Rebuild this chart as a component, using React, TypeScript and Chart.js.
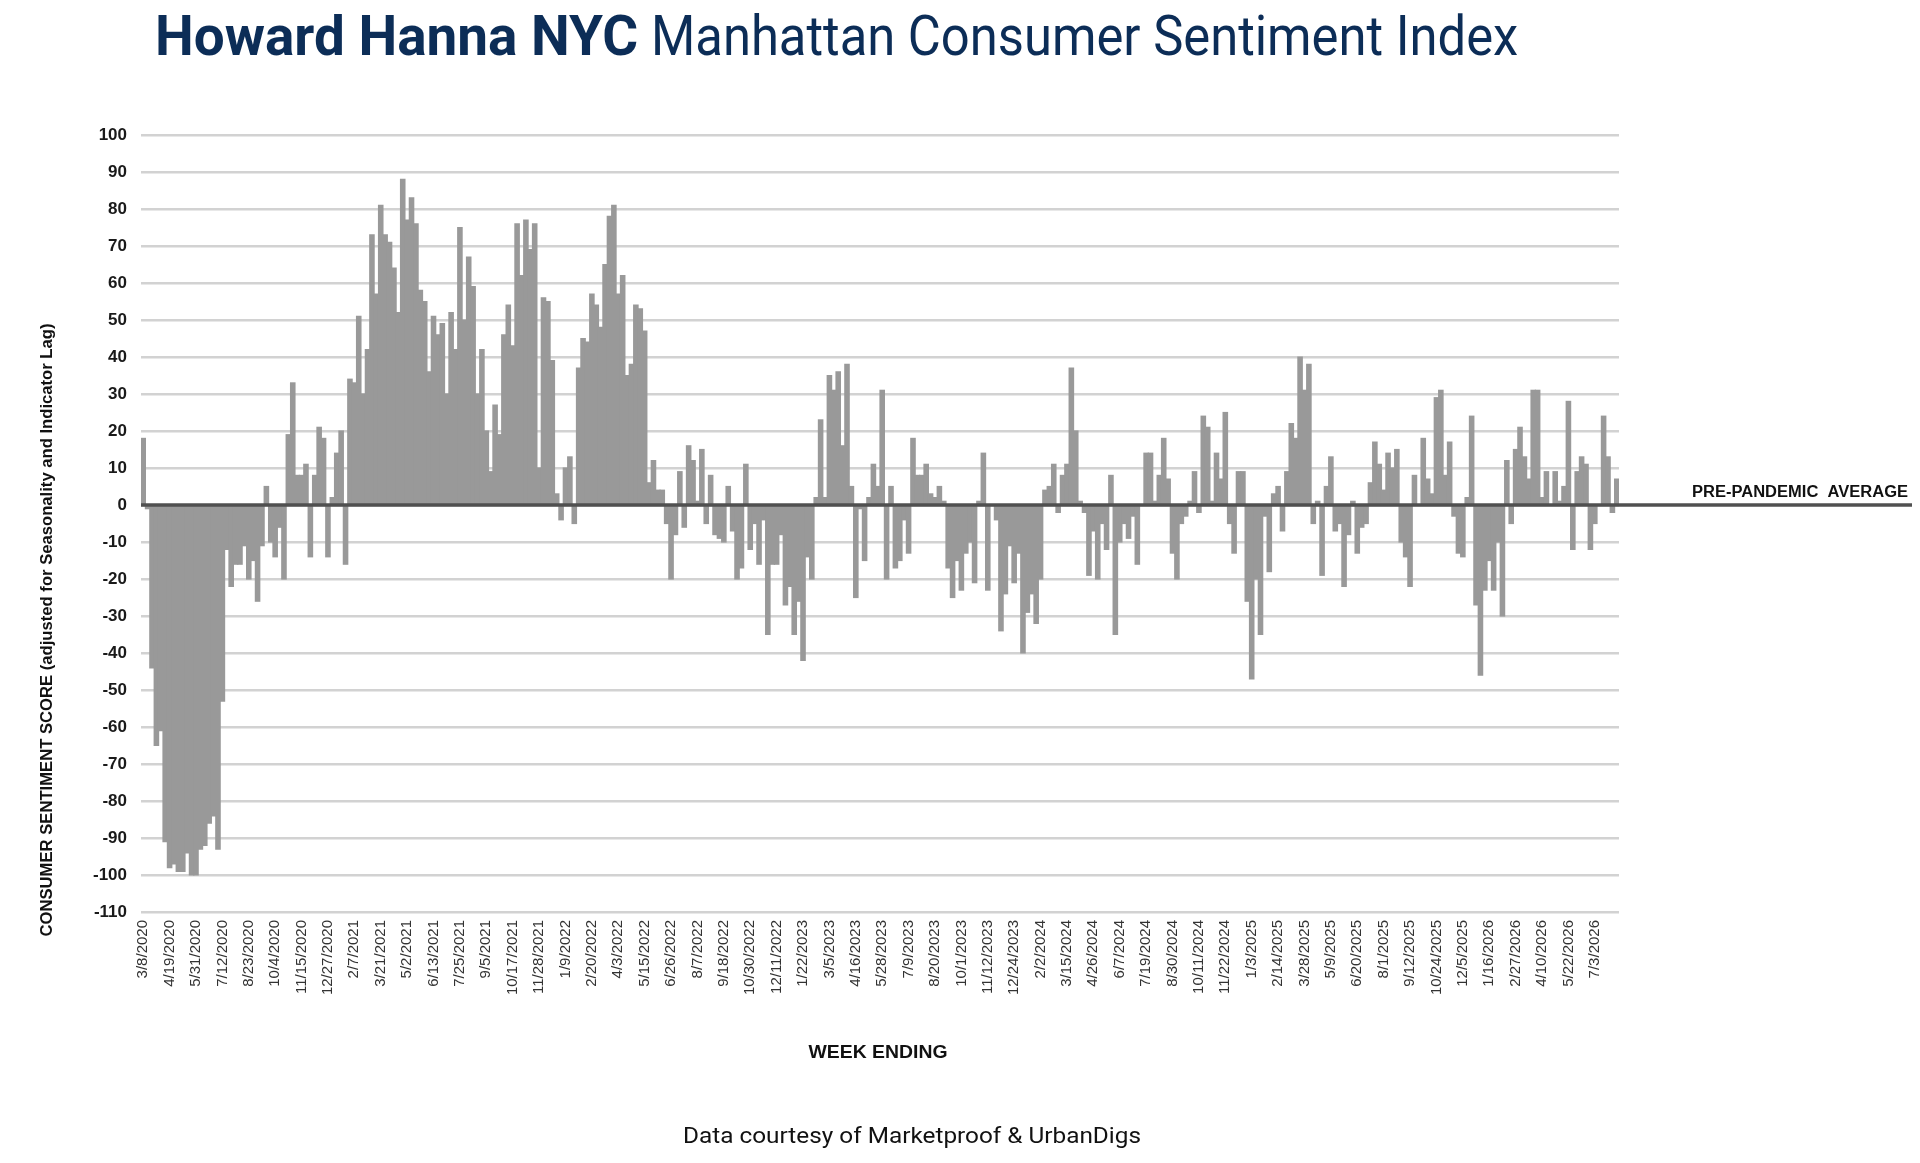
import React, { useEffect, useRef } from 'react';
import { Chart, registerables } from 'chart.js';

Chart.register(...registerables);

// Tick labels, one every 6 weeks
const TICK_LABELS = [
  '3/8/2020', '4/19/2020', '5/31/2020', '7/12/2020', '8/23/2020', '10/4/2020', '11/15/2020', '12/27/2020',
  '2/7/2021', '3/21/2021', '5/2/2021', '6/13/2021', '7/25/2021', '9/5/2021', '10/17/2021', '11/28/2021',
  '1/9/2022', '2/20/2022', '4/3/2022', '5/15/2022', '6/26/2022', '8/7/2022', '9/18/2022', '10/30/2022',
  '12/11/2022', '1/22/2023', '3/5/2023', '4/16/2023', '5/28/2023', '7/9/2023', '8/20/2023', '10/1/2023',
  '11/12/2023', '12/24/2023', '2/2/2024', '3/15/2024', '4/26/2024', '6/7/2024', '7/19/2024', '8/30/2024',
  '10/11/2024', '11/22/2024', '1/3/2025', '2/14/2025', '3/28/2025', '5/9/2025', '6/20/2025', '8/1/2025',
  '9/12/2025', '10/24/2025', '12/5/2025', '1/16/2026', '2/27/2026', '4/10/2026', '5/22/2026', '7/3/2026',
];

// Weekly consumer sentiment scores
const SCORES_A = [
  18, -1, -44, -65, -61, -91, -98, -97, -99, -99, -94, -100, -100, -93, -92, -86, -84, -93, -53, -12,
  -22, -16, -16, -11, -20, -15, -26, -11, 5, -10, -14, -6, -20, 19, 33, 8, 8, 11, -14, 8,
];
const SCORES_B = [
  21, 18, -14, 2, 14, 20, -16, 34, 33, 51, 30, 42, 73, 57, 81, 73, 71, 64, 52, 88,
  77, 83, 76, 58, 55, 36, 51, 46, 49, 30, 52, 42, 75, 50, 67, 59, 30, 42, 20, 9, 27, 19, 46, 54,
];
const SCORES_C = [
  43, 76, 62, 77, 69, 76, 10, 56, 55, 39, 3, -4, 10, 13, -5, 37, 45, 44, 57, 54,
  48, 65, 78, 81, 57, 62, 35, 38, 54, 53, 47, 6, 12, 4, 4, -5, -20, -8, 9, -6, 16, 12,
];
const SCORES_D = [
  1, 15, -5, 8, -8, -9, -10, 5, -7, -20, -17, 11, -12, -5, -16, -4, -35, -16, -16, -8,
  -27, -22, -35, -26, -42, -14, -20, 2, 23, 2, 35, 31, 36, 16, 38, 5, -25, -1, -15, 2, 11, 5,
];
const SCORES_E = [
  31, -20, 5, -17, -15, -4, -13, 18, 8, 8, 11, 3, 2, 5, 1, -17, -25, -15, -23, -13,
  -10, -21, 1, 14, -23, 0, -4, -34, -24, -11, -21, -13, -40, -29, -24, -32, -20, 4, 5, 11, -2,
];
const SCORES_F = [
  8, 11, 37, 20, 1, -2, -19, -7, -20, -5, -12, 8, -35, -10, -5, -9, -3, -16, 0, 14,
  14, 1, 8, 18, 7, -13, -20, -5, -3, 1, 9, -2, 24, 21, 1, 14, 7, 25, -5, -13,
  9, 9, -26, -47, -20, -35, -3, -18, 3, 5, -7, 9, 22, 18, 40, 31, 38, -5, 1, -19, 5,
];
const SCORES_G = [
  13, -7, -5, -22, -8, 1, -13, -6, -5, 6, 17, 11, 4, 14, 10, 15, -10, -14, -22, 8,
  0, 18, 7, 3, 29, 31, 8, 17, -3, -13, -14, 2, 24, -27, -46, -23, -15, -23, -10, -30,
  12, -5, 15, 21, 13, 7, 31, 31, 2, 9, 0, 9, 1, 5, 28, -12, 9, 13, 11, -12, -5, 0, 24, 13, -2, 7,
];

const SCORES = [...SCORES_A, ...SCORES_B, ...SCORES_C, ...SCORES_D, ...SCORES_E, ...SCORES_F, ...SCORES_G];
const LABEL_EVERY = 6;
const CATEGORIES = SCORES.map((_, i) => (i % LABEL_EVERY === 0 ? TICK_LABELS[i / LABEL_EVERY] || '' : ''));

const TITLE_BOLD = 'Howard Hanna NYC';
const TITLE_REGULAR = 'Manhattan Consumer Sentiment Index';
const Y_TITLE = 'CONSUMER SENTIMENT SCORE (adjusted for Seasonality and Indicator Lag)';
const X_TITLE = 'WEEK ENDING';
const AVG_LABEL = 'PRE-PANDEMIC  AVERAGE';
const FOOTER = 'Data courtesy of Marketproof & UrbanDigs';

const NAVY = '#0c2d57';
const SANS = '"Liberation Sans", Arial, sans-serif';

function drawFitted(ctx: CanvasRenderingContext2D, text: string, font: string, x: number, y: number, width: number, rotate: boolean, align: 'center' | 'right') {
  ctx.save();
  ctx.font = font;
  const w = ctx.measureText(text).width;
  ctx.translate(x, y);
  if (rotate) ctx.rotate(-Math.PI / 2);
  ctx.scale(width / w, 1);
  ctx.textAlign = align;
  ctx.textBaseline = 'alphabetic';
  ctx.fillStyle = '#111';
  ctx.fillText(text, 0, 0);
  ctx.restore();
}

const overlayPlugin = {
  id: 'overlay',
  afterDatasetsDraw(chart: any) {
    const { ctx, chartArea, scales } = chart;
    const y0 = scales.y.getPixelForValue(0);
    ctx.save();
    ctx.strokeStyle = '#505050';
    ctx.lineWidth = 3.5;
    ctx.beginPath();
    ctx.moveTo(chartArea.left, y0);
    ctx.lineTo(1912, y0);
    ctx.stroke();
    ctx.restore();
  },
  afterDraw(chart: any) {
    const { ctx, scales } = chart;
    const y0 = scales.y.getPixelForValue(0);
    drawFitted(ctx, AVG_LABEL, `bold 16px ${SANS}`, 1908, y0 - 8, 216, false, 'right');
    drawFitted(ctx, Y_TITLE, `bold 17px ${SANS}`, 52, 630, 613, true, 'center');
    drawFitted(ctx, X_TITLE, `bold 18px ${SANS}`, 878, 1058, 139, false, 'center');
  },
};

function fitSpan(el: HTMLSpanElement | null, width: number) {
  if (!el) return;
  const w = el.offsetWidth;
  if (w > 0) el.style.transform = `scaleX(${width / w})`;
}

export default function App() {
  const canvasRef = useRef<HTMLCanvasElement>(null);
  const boldRef = useRef<HTMLSpanElement>(null);
  const regRef = useRef<HTMLSpanElement>(null);
  const footRef = useRef<HTMLSpanElement>(null);

  useEffect(() => {
    fitSpan(boldRef.current, 483);
    fitSpan(regRef.current, 867);
    fitSpan(footRef.current, 458);
    const canvas = canvasRef.current;
    if (!canvas) return;
    const chart = new Chart(canvas, {
      type: 'bar',
      data: {
        labels: CATEGORIES,
        datasets: [
          {
            data: SCORES,
            backgroundColor: '#999999',
            borderWidth: 0,
            barPercentage: 1.0,
            categoryPercentage: 1.0,
            inflateAmount: 0.6,
          },
        ],
      },
      options: {
        animation: false,
        responsive: false,
        devicePixelRatio: 1,
        layout: { padding: { top: 135, right: 301, bottom: 0, left: 0 } },
        plugins: { legend: { display: false }, tooltip: { enabled: false }, title: { display: false } },
        scales: {
          x: {
            type: 'category',
            offset: true,
            grid: { display: false, drawTicks: false },
            border: { display: false },
            ticks: {
              autoSkip: false,
              minRotation: 90,
              maxRotation: 90,
              padding: 8,
              color: '#333',
              font: { family: SANS, size: 15 },
              callback: (_v: any, i: number) => CATEGORIES[i],
            },
            afterFit: (scale: any) => {
              scale.height = 251;
            },
          },
          y: {
            min: -110,
            max: 100,
            grid: { color: '#d2d2d2', lineWidth: 2.5, drawTicks: false },
            border: { display: false },
            ticks: {
              stepSize: 10,
              padding: 14,
              color: '#1a1a1a',
              font: { family: SANS, size: 17, weight: 'bold' },
            },
            afterFit: (scale: any) => {
              scale.width = 141;
            },
          },
        },
      },
      plugins: [overlayPlugin],
    });
    return () => chart.destroy();
  }, []);

  const spanBase: React.CSSProperties = {
    position: 'absolute',
    whiteSpace: 'nowrap',
    transformOrigin: '0 0',
    color: NAVY,
  };

  return (
    <div style={{ position: 'absolute', left: 0, top: 0, width: 1920, height: 1163, background: '#fff', overflow: 'hidden' }}>
      <canvas ref={canvasRef} width={1920} height={1163} style={{ position: 'absolute', left: 0, top: 0, width: 1920, height: 1163 }} />
      <span ref={boldRef} style={{ ...spanBase, left: 155, top: 8, font: 'bold 56px Roboto, sans-serif', lineHeight: '56px' }}>
        {TITLE_BOLD}
      </span>
      <span ref={regRef} style={{ ...spanBase, left: 651, top: 8, font: '400 56px Roboto, sans-serif', lineHeight: '56px' }}>
        {TITLE_REGULAR}
      </span>
      <span ref={footRef} style={{ ...spanBase, left: 683, top: 1125, font: '400 22px Roboto, sans-serif', lineHeight: '22px', color: '#111' }}>
        {FOOTER}
      </span>
    </div>
  );
}
